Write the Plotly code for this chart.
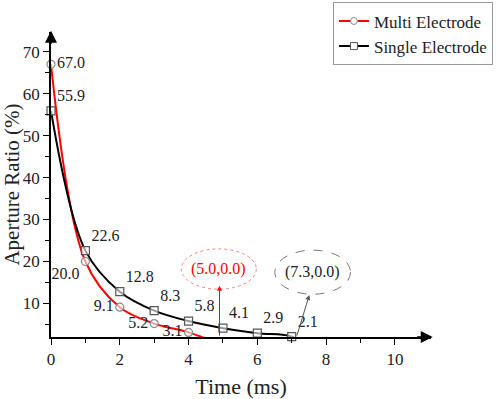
import plotly.graph_objects as go

# ---- data ----
time_ms = [0, 1, 2, 3, 4]
multi_ratio = [67.0, 20.0, 9.1, 5.2, 3.1]
multi_end = (5.0, 0.0)

time_single = [0, 1, 2, 3, 4, 5, 6, 7]
single_ratio = [55.9, 22.6, 12.8, 8.3, 5.8, 4.1, 2.9, 2.1]
single_end = (7.3, 0.0)

multi_pos = ["middle right", "bottom left", "middle left", "middle left", "middle left"]
single_pos = ["top right"] * 8

FONT = "Liberation Serif, Times New Roman, serif"
RED = "#ff0000"
BLACK = "#000000"
Y_MIN = 2.0
Y_MAX = 74.7

fig = go.Figure()

# fitted curves
fig.add_trace(go.Scatter(x=time_ms + [multi_end[0]], y=multi_ratio + [multi_end[1]],
                         mode="lines", line=dict(color=RED, width=2, shape="spline", smoothing=1.0),
                         showlegend=False, hoverinfo="skip"))
fig.add_trace(go.Scatter(x=time_single + [single_end[0]], y=single_ratio + [single_end[1]],
                         mode="lines", line=dict(color=BLACK, width=2, shape="spline", smoothing=1.0),
                         showlegend=False, hoverinfo="skip"))

# markers + labels
fig.add_trace(go.Scatter(x=time_ms, y=multi_ratio, mode="markers+text",
                         text=[f"{v:.1f}" for v in multi_ratio], textposition=multi_pos,
                         textfont=dict(family=FONT, size=16, color="#222"),
                         marker=dict(symbol="circle", size=8, color="rgba(255,255,255,0.6)",
                                     line=dict(color="#8a8a8a", width=1.2)),
                         cliponaxis=False, showlegend=False))
fig.add_trace(go.Scatter(x=time_single, y=single_ratio, mode="markers+text",
                         text=[f"{v:.1f}" for v in single_ratio], textposition=single_pos,
                         textfont=dict(family=FONT, size=16, color="#222"),
                         marker=dict(symbol="square", size=8, color="rgba(255,255,255,0.6)",
                                     line=dict(color="#555555", width=1.2)),
                         cliponaxis=False, showlegend=False))

# legend entries
fig.add_trace(go.Scatter(x=[None], y=[None], mode="lines+markers", name="Multi Electrode",
                         line=dict(color=RED, width=2),
                         marker=dict(symbol="circle", size=7, color="white", line=dict(color="#8a8a8a", width=1))))
fig.add_trace(go.Scatter(x=[None], y=[None], mode="lines+markers", name="Single Electrode",
                         line=dict(color=BLACK, width=2),
                         marker=dict(symbol="square", size=7, color="white", line=dict(color="#555555", width=1))))

# end-point callouts
fig.add_shape(type="circle", xref="x", yref="y", x0=3.79, x1=5.97, y0=13.4, y1=23.0,
              line=dict(color="#ff8080", width=1, dash="dot"))
fig.add_shape(type="circle", xref="x", yref="y", x0=6.51, x1=8.71, y0=12.2, y1=22.7,
              line=dict(color="#777777", width=1, dash="dash"))
fig.add_annotation(x=4.88, y=18.2, text=f"({multi_end[0]:.1f},{multi_end[1]:.1f})", showarrow=False,
                   font=dict(family=FONT, size=16, color=RED))
fig.add_annotation(x=7.61, y=17.45, text=f"({single_end[0]:.1f},{single_end[1]:.1f})", showarrow=False,
                   font=dict(family=FONT, size=16, color="#222"))
fig.add_annotation(x=4.9, y=14.2, ax=4.9, ay=Y_MIN, xref="x", yref="y", axref="x", ayref="y",
                   text="", showarrow=True, arrowhead=2, arrowsize=1, arrowwidth=1, arrowcolor=RED)
fig.add_annotation(x=7.51, y=12.0, ax=7.14, ay=Y_MIN, xref="x", yref="y", axref="x", ayref="y",
                   text="", showarrow=True, arrowhead=2, arrowsize=1, arrowwidth=1, arrowcolor="#555555")

# axis arrows
fig.add_annotation(x=11.1, y=Y_MIN, ax=10.6, ay=Y_MIN, xref="x", yref="y", axref="x", ayref="y",
                   text="", showarrow=True, arrowhead=2, arrowsize=1.6, arrowwidth=1.5, arrowcolor=BLACK)
fig.add_annotation(x=0, y=75.0, ax=0, ay=71.5, xref="x", yref="y", axref="x", ayref="y",
                   text="", showarrow=True, arrowhead=2, arrowsize=1.6, arrowwidth=1.5, arrowcolor=BLACK)

fig.update_layout(
    width=498, height=399,
    margin=dict(l=51, r=67, t=32, b=62, autoexpand=False),
    plot_bgcolor="white", paper_bgcolor="white",
    font=dict(family=FONT, size=16, color="#222"),
    showlegend=True,
    legend=dict(x=1.163, xanchor="right", y=1.097, yanchor="top",
                bordercolor="#999999", borderwidth=1, bgcolor="white",
                font=dict(family=FONT, size=17, color="#222"),
                tracegroupgap=0, itemwidth=30),
    xaxis=dict(range=[0, 11.05], showline=True, linecolor=BLACK, linewidth=1.5,
               showgrid=False, zeroline=False, ticks="outside", ticklen=6, tickcolor=BLACK,
               tickvals=[0, 2, 4, 6, 8, 10], tickfont=dict(family=FONT, size=17, color="#222"),
               minor=dict(tickvals=[1, 3, 5, 7, 9], ticks="outside", ticklen=4, tickcolor=BLACK),
               title=dict(text="Time (ms)", font=dict(family=FONT, size=22, color="#222"), standoff=12)),
    yaxis=dict(range=[Y_MIN, Y_MAX], showline=True, linecolor=BLACK, linewidth=1.5,
               showgrid=False, zeroline=False, ticks="outside", ticklen=6, tickcolor=BLACK,
               tickvals=[10, 20, 30, 40, 50, 60, 70], tickfont=dict(family=FONT, size=17, color="#222"),
               minor=dict(tickvals=[5, 15, 25, 35, 45, 55, 65], ticks="outside", ticklen=4, tickcolor=BLACK),
               title=dict(text="Aperture Ratio (%)", font=dict(family=FONT, size=21, color="#222"), standoff=1)),
)

fig.write_html("out.html", config={"displayModeBar": False},
               post_script="document.body.style.margin='0';")
